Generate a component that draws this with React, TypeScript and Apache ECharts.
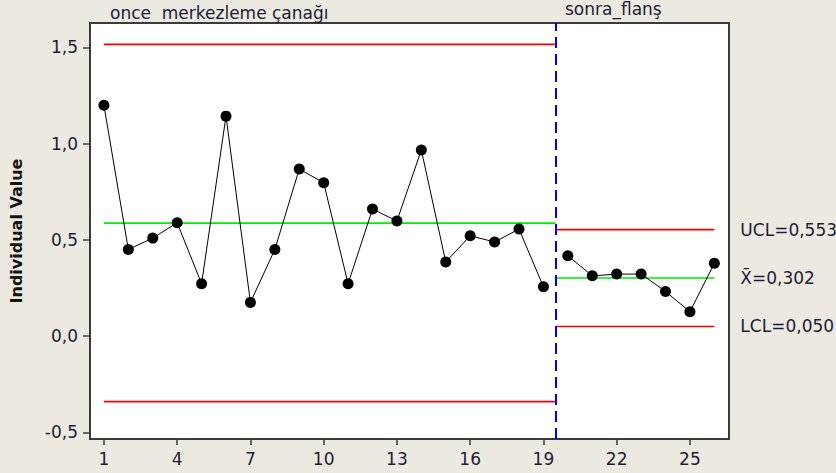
import React, { useEffect, useRef } from "react";
import * as echarts from "echarts";

// ---- data ----
const stage1Index = [1, 2, 3, 4, 5, 6, 7, 8, 9, 10, 11, 12, 13, 14, 15, 16, 17, 18, 19];
const stage1Values = [1.2, 0.45, 0.509, 0.589, 0.272, 1.143, 0.175, 0.45, 0.868, 0.797, 0.272, 0.66, 0.598, 0.967, 0.385, 0.521, 0.489, 0.556, 0.256];
const stage2Index = [20, 21, 22, 23, 24, 25, 26];
const stage2Values = [0.417, 0.313, 0.322, 0.322, 0.232, 0.126, 0.378];
const stageNames = ["once\u00a0 merkezleme çanağı", "sonra_flanş"];
// [UCL, mean, LCL]
const stage1Limits = [1.516, 0.587, -0.341];
const stage2Limits = [0.553, 0.302, 0.05];
const stage2LimitLabels = ["UCL=0,553", "X\u0304=0,302", "LCL=0,050"];
const stageBoundary = 19.5;
const xTicks = [1, 4, 7, 10, 13, 16, 19, 22, 25];
const yTicks = [-0.5, 0, 0.5, 1.0, 1.5];
const xRange = [0.43, 26.6];
const yRange = [-0.535, 1.627];

const FONT = "DejaVu Sans";
const TEXT = "#1c1c38";
const limitColors = ["#ff0000", "#00ee00", "#ff0000"];

export default function App() {
  const ref = useRef<HTMLDivElement>(null);
  useEffect(() => {
    document.body.style.margin = "0";
    if (!ref.current) return;
    const chart = echarts.init(ref.current, undefined, { renderer: "svg" });

    const limitSeries: any[] = [];
    stage1Limits.forEach((v, i) => {
      limitSeries.push({
        type: "line",
        silent: true,
        symbol: "none",
        z: 1,
        lineStyle: { color: limitColors[i], width: 1.6 },
        data: [
          [stage1Index[0], v],
          [stageBoundary, v],
        ],
      });
    });
    stage2Limits.forEach((v, i) => {
      limitSeries.push({
        type: "line",
        silent: true,
        symbol: "none",
        z: 1,
        lineStyle: { color: limitColors[i], width: 1.6 },
        endLabel: {
          show: true,
          formatter: stage2LimitLabels[i],
          distance: 26,
          color: TEXT,
          fontFamily: FONT,
          fontSize: 17,
          align: "left",
        },
        data: [
          [stageBoundary, v],
          [stage2Index[stage2Index.length - 1], v],
        ],
      });
    });

    const pointStyle = {
      type: "line",
      symbol: "circle",
      symbolSize: 11,
      z: 3,
      itemStyle: { color: "#000" },
      lineStyle: { color: "#000", width: 1 },
    };

    chart.setOption({
      animation: false,
      backgroundColor: "#ece9e0",
      grid: {
        left: 90,
        right: 107,
        top: 23,
        bottom: 34,
        show: true,
        backgroundColor: "#ffffff",
        borderColor: "#3a3a3a",
        borderWidth: 2,
      },
      xAxis: {
        type: "value",
        min: xRange[0],
        max: xRange[1],
        axisLine: { show: true, onZero: false, lineStyle: { color: "#3a3a3a", width: 2 } },
        axisTick: { show: true, length: 6, lineStyle: { color: "#3a3a3a", width: 1.5 }, customValues: xTicks },
        axisLabel: {
          customValues: xTicks,
          color: TEXT,
          fontFamily: FONT,
          fontSize: 17,
          margin: 11,
        },
        splitLine: { show: false },
      },
      yAxis: {
        type: "value",
        min: yRange[0],
        max: yRange[1],
        name: "Individual Value",
        nameLocation: "middle",
        nameGap: 66,
        nameTextStyle: { color: "#111", fontFamily: FONT, fontSize: 16, fontWeight: "bold" },
        axisLine: { show: true, onZero: false, lineStyle: { color: "#3a3a3a", width: 2 } },
        axisTick: { show: true, length: 7, lineStyle: { color: "#3a3a3a", width: 1.5 }, customValues: yTicks },
        axisLabel: {
          customValues: yTicks,
          color: TEXT,
          fontFamily: FONT,
          fontSize: 17,
          margin: 12,
          formatter: (v: number) => v.toFixed(1).replace(".", ","),
        },
        splitLine: { show: false },
      },
      graphic: [
        {
          type: "text",
          left: 110,
          top: 4,
          style: { text: stageNames[0], fill: TEXT, font: `17px '${FONT}'` },
        },
        {
          type: "text",
          left: 565,
          top: 0,
          style: { text: stageNames[1], fill: TEXT, font: `17px '${FONT}'` },
        },
      ],
      series: [
        ...limitSeries,
        {
          ...pointStyle,
          data: stage1Index.map((x, i) => [x, stage1Values[i]]),
          markLine: {
            silent: true,
            symbol: "none",
            label: { show: false },
            lineStyle: { color: "#0000ff", width: 2, type: [11, 6] },
            data: [{ xAxis: stageBoundary }],
          },
        },
        {
          ...pointStyle,
          data: stage2Index.map((x, i) => [x, stage2Values[i]]),
        },
      ],
    });
    return () => chart.dispose();
  }, []);
  return <div ref={ref} style={{ width: 836, height: 473 }} />;
}
